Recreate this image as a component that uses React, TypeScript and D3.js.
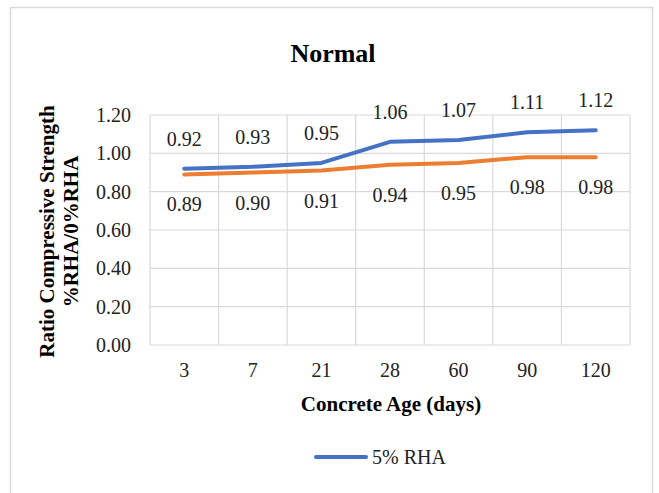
import React from "react";
import * as d3 from "d3";

const ages = ["3", "7", "21", "28", "60", "90", "120"];
const rha5 = [0.92, 0.93, 0.95, 1.06, 1.07, 1.11, 1.12];
const rha0 = [0.89, 0.9, 0.91, 0.94, 0.95, 0.98, 0.98];
const yTicks = [0, 0.2, 0.4, 0.6, 0.8, 1.0, 1.2];

const W = 659;
const H = 493;
const plot = { left: 150, right: 630, top: 115, bottom: 345 };
const FONT = "'Liberation Serif', 'Times New Roman', serif";
const LABEL = 20;
const AXIS_TITLE = 21;

export default function App() {
  const x = d3.scaleBand<string>().domain(ages).range([plot.left, plot.right]);
  const y = d3.scaleLinear().domain([0, 1.2]).range([plot.bottom, plot.top]);
  const cx = (d: string) => (x(d) ?? 0) + x.bandwidth() / 2;
  const line = d3
    .line<number>()
    .x((_, i) => cx(ages[i]))
    .y((v) => y(v));

  return (
    <svg
      width={W}
      height={H}
      style={{ position: "absolute", left: 0, top: 0, background: "#fff" }}
      fontFamily={FONT}
    >
      <rect x={0} y={0} width={W} height={H} fill="#fff" />
      <rect x={10.5} y={7.5} width={642} height={500} fill="none" stroke="#d9d9d9" strokeWidth={1.5} />

      <text x={333} y={61.5} textAnchor="middle" fontSize={26} fontWeight="bold" fill="#000">
        Normal
      </text>

      {/* horizontal gridlines */}
      {yTicks.map((t) => (
        <line key={"h" + t} x1={plot.left} x2={plot.right} y1={y(t)} y2={y(t)} stroke="#d9d9d9" strokeWidth={1.2} />
      ))}
      {/* vertical category boundaries */}
      {ages.map((a) => (
        <line key={"v" + a} x1={x(a)!} x2={x(a)!} y1={plot.top} y2={plot.bottom} stroke="#d9d9d9" strokeWidth={1.2} />
      ))}
      <line x1={plot.right} x2={plot.right} y1={plot.top} y2={plot.bottom} stroke="#d9d9d9" strokeWidth={1.2} />

      {/* y tick labels */}
      {yTicks.map((t) => (
        <text key={"yt" + t} x={131} y={y(t)} dy="0.35em" textAnchor="end" fontSize={LABEL} fill="#222">
          {t.toFixed(2)}
        </text>
      ))}
      {/* x tick labels */}
      {ages.map((a) => (
        <text key={"xt" + a} x={cx(a)} y={370} dy="0.35em" textAnchor="middle" fontSize={LABEL} fill="#222">
          {a}
        </text>
      ))}

      <text x={391} y={404} dy="0.35em" textAnchor="middle" fontSize={AXIS_TITLE} fontWeight="bold" fill="#000">
        Concrete Age (days)
      </text>

      <g transform="translate(47,231.5) rotate(-90)">
        <text x={0} y={0} dy="0.35em" textAnchor="middle" fontSize={AXIS_TITLE} fontWeight="bold" fill="#000">
          Ratio Compressive Strength
        </text>
      </g>
      <g transform="translate(71,231.5) rotate(-90)">
        <text x={0} y={0} dy="0.35em" textAnchor="middle" fontSize={AXIS_TITLE} fontWeight="bold" fill="#000">
          %RHA/0%RHA
        </text>
      </g>

      <path d={line(rha0) ?? ""} fill="none" stroke="#ED7D31" strokeWidth={4} strokeLinejoin="round" strokeLinecap="round" />
      <path d={line(rha5) ?? ""} fill="none" stroke="#4472C4" strokeWidth={4} strokeLinejoin="round" strokeLinecap="round" />

      {rha5.map((v, i) => (
        <text key={"l5" + i} x={cx(ages[i])} y={y(v) - 30} dy="0.35em" textAnchor="middle" fontSize={LABEL} fill="#222">
          {v.toFixed(2)}
        </text>
      ))}
      {rha0.map((v, i) => (
        <text key={"l0" + i} x={cx(ages[i])} y={y(v) + 30} dy="0.35em" textAnchor="middle" fontSize={LABEL} fill="#222">
          {v.toFixed(2)}
        </text>
      ))}

      <line x1={316} x2={366} y1={457} y2={457} stroke="#4472C4" strokeWidth={4} strokeLinecap="round" />
      <text x={372} y={457} dy="0.35em" fontSize={LABEL} fill="#222">
        5% RHA
      </text>
    </svg>
  );
}
